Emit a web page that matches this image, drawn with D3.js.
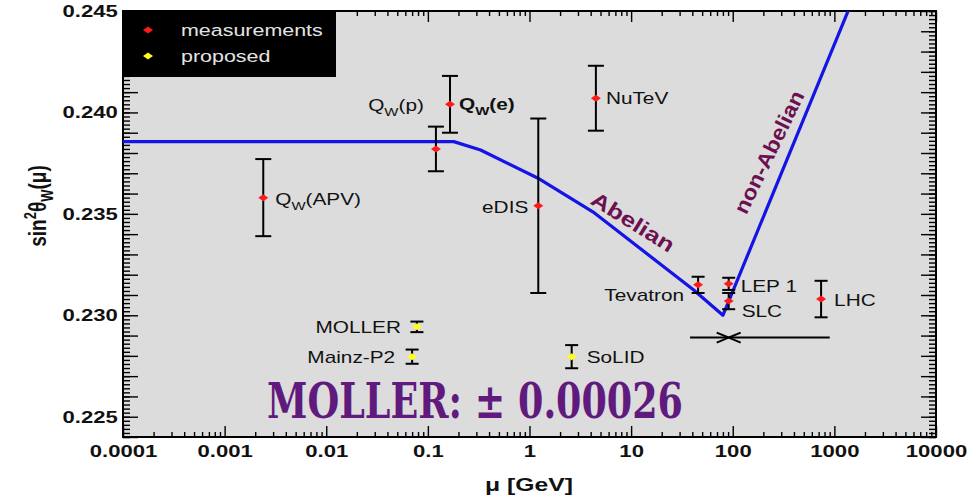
<!DOCTYPE html>
<html>
<head>
<meta charset="utf-8">
<script src="https://cdn.jsdelivr.net/npm/d3@7"></script>
<style>
  body { margin: 0; background: #fff; }
  svg { display: block; font-family: "Liberation Sans", Arial, sans-serif; }
</style>
</head>
<body>
<div id="chart"></div>
<script>
/************ data **************************************/

// measured points: scale mu [GeV], sin^2 theta_W, error
const measNames = ["Q_W(APV)", "Q_W(p)", "Q_W(e)", "NuTeV", "eDIS", "Tevatron", "LEP 1", "SLC", "LHC"];
const measMu    = [0.0024, 0.12, 0.165, 4.5, 1.22, 45.6, 91.2, 91.2, 740];
const measVal   = [0.2358, 0.2382, 0.2404, 0.2407, 0.2354, 0.2315, 0.23155, 0.2307, 0.2308];
const measErr   = [0.0019, 0.0011, 0.0014, 0.0016, 0.0043, 0.0004, 0.0003, 0.0004, 0.0009];

// proposed experiments
const propNames = ["MOLLER", "Mainz-P2", "SoLID"];
const propMu    = [0.078, 0.070, 2.6];
const propVal   = [0.22943, 0.22796, 0.22796];
const propErr   = [0.00026, 0.00035, 0.00057];

// running of sin^2 theta_W (blue curve)
const curveMu  = [0.0001, 0.18, 0.33, 1.2, 4.2, 41, 80, 1500];
const curveVal = [0.23856, 0.23856, 0.23815, 0.23677, 0.2351, 0.23126, 0.2300, 0.2455];

// LHC reach arrow at the Z pole
const arrowMu = [38, 900];
const arrowCenter = 91.2;
const arrowLevel = 0.2289;

// ticks
const xTickValues = [1e-4, 1e-3, 1e-2, 1e-1, 1, 10, 100, 1000, 10000];
const xTickLabels = ["0.0001", "0.001", "0.01", "0.1", "1", "10", "100", "1000", "10000"];
const yTickValues = [0.225, 0.230, 0.235, 0.240, 0.245];
const yTickLabels = ["0.225", "0.230", "0.235", "0.240", "0.245"];

const legendNames = ["measurements", "proposed"];

/************ layout *****************/

const W = 969, H = 499;
const margin = {top: 11, right: 33, bottom: 62, left: 123};
const SX = 1.3;   // the reference picture is stretched sideways

// label placement: [anchor, dx, dy, bold]
const measLabelPos = [
  ["start", 12, 7, false], ["end", -12, -38, false], ["start", 9, 6, true],
  ["start", 10, 6, false], ["end", -10, 7, false], ["end", -14, 16, false],
  ["start", 12, 8, false], ["start", 13, 16, false], ["start", 13, 7, false]
];
const propLabelPos = [["end", -16, 6], ["end", -17, 6], ["start", 15, 6]];

const x = d3.scaleLog().domain([1e-4, 1e4]).range([margin.left, W - margin.right]);
const y = d3.scaleLinear().domain([0.224, 0.245]).range([H - margin.bottom, margin.top]);

const svg = d3.select("#chart").append("svg")
    .attr("width", W)
    .attr("height", H);

svg.append("defs").append("clipPath").attr("id", "plotClip")
  .append("rect")
    .attr("x", margin.left).attr("y", margin.top)
    .attr("width", W - margin.left - margin.right)
    .attr("height", H - margin.top - margin.bottom);

// plot background
svg.append("rect")
    .attr("x", margin.left).attr("y", margin.top)
    .attr("width", W - margin.left - margin.right)
    .attr("height", H - margin.top - margin.bottom)
    .attr("fill", "#dcdcdc");

// stretched text helper
function label(g, px, py, str, opts) {
  opts = opts || {};
  const t = g.append("g")
      .attr("transform", "translate(" + px + "," + py + ") scale(" + (opts.sx || SX) + ",1)")
    .append("text")
      .attr("text-anchor", opts.anchor || "start")
      .attr("font-size", opts.size || 16)
      .attr("font-weight", opts.bold ? "bold" : "normal")
      .attr("fill", opts.fill || "#111");
  const parts = str.split("_W");
  if (parts.length === 2) {
    t.append("tspan").text(parts[0]);
    t.append("tspan").attr("dy", 5).attr("font-size", (opts.size || 16) * 0.72).text("W");
    t.append("tspan").attr("dy", -5).text(parts[1]);
  } else {
    t.text(str);
  }
  return t;
}

/************ axes *****************/

const xMinor = [];
xTickValues.slice(0, -1).forEach(d => { for (let k = 2; k <= 9; k++) xMinor.push(d * k); });
const yMid = d3.range(224, 246).map(i => i / 1000);
const yMinor = d3.range(1120, 1226).map(i => i * 0.0002);

function axisGroup(axis, tx, ty) {
  const g = svg.append("g").attr("transform", "translate(" + tx + "," + ty + ")").call(axis);
  g.select(".domain").remove();
  g.selectAll("line").attr("stroke", "#000").attr("stroke-width", 1.4);
  return g;
}

const bottomY = H - margin.bottom, rightX = W - margin.right;

// bottom
axisGroup(d3.axisBottom(x).tickValues(xMinor).tickSize(-5).tickFormat(""), 0, bottomY);
const xAx = axisGroup(d3.axisBottom(x).tickValues(xTickValues).tickSize(-11).tickPadding(8)
    .tickFormat((d, i) => xTickLabels[i]), 0, bottomY);
xAx.selectAll("text")
    .attr("font-size", 17).attr("font-weight", "bold").attr("fill", "#111")
    .attr("font-family", "Liberation Sans, Arial, sans-serif")
    .attr("transform", "scale(" + SX + ",1)");
// top
axisGroup(d3.axisTop(x).tickValues(xMinor).tickSize(-5).tickFormat(""), 0, margin.top);
axisGroup(d3.axisTop(x).tickValues(xTickValues).tickSize(-11).tickFormat(""), 0, margin.top);

// left
axisGroup(d3.axisLeft(y).tickValues(yMinor).tickSize(-7).tickFormat(""), margin.left, 0);
axisGroup(d3.axisLeft(y).tickValues(yMid).tickSize(-15).tickFormat(""), margin.left, 0);
const yAx = axisGroup(d3.axisLeft(y).tickValues(yTickValues).tickSize(0).tickPadding(4)
    .tickFormat((d, i) => yTickLabels[i]), margin.left, 0);
yAx.selectAll("text")
    .attr("font-size", 17).attr("font-weight", "bold").attr("fill", "#111")
    .attr("font-family", "Liberation Sans, Arial, sans-serif")
    .attr("transform", "scale(" + SX + ",1)");
// right
axisGroup(d3.axisRight(y).tickValues(yMinor).tickSize(-7).tickFormat(""), rightX, 0);
axisGroup(d3.axisRight(y).tickValues(yMid).tickSize(-15).tickFormat(""), rightX, 0);

// frame
svg.append("rect")
    .attr("x", margin.left).attr("y", margin.top)
    .attr("width", W - margin.left - margin.right)
    .attr("height", H - margin.top - margin.bottom)
    .attr("fill", "none").attr("stroke", "#000").attr("stroke-width", 2);

// axis titles
const yt = svg.append("g").attr("transform", "translate(46,206) rotate(-90) scale(1," + SX + ")")
  .append("text").attr("text-anchor", "middle").attr("font-size", 19).attr("font-weight", "bold").attr("fill", "#111");
yt.append("tspan").text("sin");
yt.append("tspan").attr("dy", -8).attr("font-size", 13).text("2");
yt.append("tspan").attr("dy", 8).text("\u03b8");
yt.append("tspan").attr("dy", 5).attr("font-size", 13).text("W");
yt.append("tspan").attr("dy", -5).text("(\u03bc)");

label(svg, 529, 491, "\u03bc [GeV]", {anchor: "middle", size: 19, bold: true});

/************ curve *****************/

const curve = curveMu.map((m, i) => [m, curveVal[i]]);
svg.append("path")
    .datum(curve)
    .attr("clip-path", "url(#plotClip)")
    .attr("d", d3.line().x(d => x(d[0])).y(d => y(d[1])))
    .attr("fill", "none")
    .attr("stroke", "#1414e6")
    .attr("stroke-width", 3.2)
    .attr("stroke-linejoin", "round");

// arrow
const ay = y(arrowLevel), ac = x(arrowCenter);
svg.append("line")
    .attr("x1", x(arrowMu[0])).attr("x2", x(arrowMu[1]))
    .attr("y1", ay).attr("y2", ay)
    .attr("stroke", "#000").attr("stroke-width", 2);
svg.append("path")
    .attr("d", "M" + (ac - 12) + "," + (ay - 5) + "L" + ac + "," + ay + "L" + (ac - 12) + "," + (ay + 5)
             + "M" + (ac + 12) + "," + (ay - 5) + "L" + ac + "," + ay + "L" + (ac + 12) + "," + (ay + 5))
    .attr("fill", "none").attr("stroke", "#000").attr("stroke-width", 2);

/************ points *****************/

function diamond(g, px, py, color) {
  g.append("path")
      .attr("d", "M" + (px - 5) + "," + py + "L" + px + "," + (py - 3.5) + "L" + (px + 5) + "," + py + "L" + px + "," + (py + 3.5) + "Z")
      .attr("fill", color);
}

function errorBars(names, mus, vals, errs, color, pos) {
  const g = svg.append("g");
  names.forEach((n, i) => {
    const px = x(mus[i]), y1 = y(vals[i] + errs[i]), y2 = y(vals[i] - errs[i]);
    const cap = errs[i] > 0.001 ? 8 : 6.5;
    g.append("line").attr("x1", px).attr("x2", px).attr("y1", y1).attr("y2", y2)
        .attr("stroke", "#000").attr("stroke-width", 2);
    [y1, y2].forEach(cy => {
      g.append("line").attr("x1", px - cap).attr("x2", px + cap).attr("y1", cy).attr("y2", cy)
          .attr("stroke", "#000").attr("stroke-width", 2);
    });
    diamond(g, px, y(vals[i]), color);
    const p = pos[i];
    label(g, px + p[1], y(vals[i]) + p[2], n, {anchor: p[0], bold: !!p[3], size: 16});
  });
}

errorBars(measNames, measMu, measVal, measErr, "#ff1a1a", measLabelPos);
errorBars(propNames, propMu, propVal, propErr, "#ffff1a", propLabelPos);

/************ annotations *****************/

svg.append("text")
    .attr("transform", "translate(633,222) rotate(32)")
    .attr("text-anchor", "middle")
    .attr("font-size", 21).attr("font-weight", "bold")
    .attr("fill", "#6b1050")
    .attr("textLength", 94).attr("lengthAdjust", "spacingAndGlyphs")
    .attr("dy", "0.35em")
    .text("Abelian");

svg.append("text")
    .attr("transform", "translate(769,152) rotate(-64)")
    .attr("text-anchor", "middle")
    .attr("font-size", 21).attr("font-weight", "bold")
    .attr("fill", "#6b1050")
    .attr("textLength", 134).attr("lengthAdjust", "spacingAndGlyphs")
    .attr("dy", "0.35em")
    .text("non-Abelian");

svg.append("text")
    .attr("x", 267).attr("y", 418)
    .attr("font-family", "DejaVu Serif, Liberation Serif, serif")
    .attr("font-size", 49).attr("font-weight", "bold")
    .attr("fill", "#601a7e")
    .attr("textLength", 416).attr("lengthAdjust", "spacingAndGlyphs")
    .text("MOLLER: \u00b1 0.00026");

/************ legend *****************/

svg.append("rect")
    .attr("x", margin.left).attr("y", margin.top)
    .attr("width", 213).attr("height", 66)
    .attr("fill", "#000");
const legColors = ["#ff1a1a", "#ffff1a"];
legendNames.forEach((n, i) => {
  diamond(svg, 148, 30 + i * 26, legColors[i]);
  label(svg, 181, 36 + i * 26, n, {size: 16.5, fill: "#e4e4e4"});
});
</script>
</body>
</html>
